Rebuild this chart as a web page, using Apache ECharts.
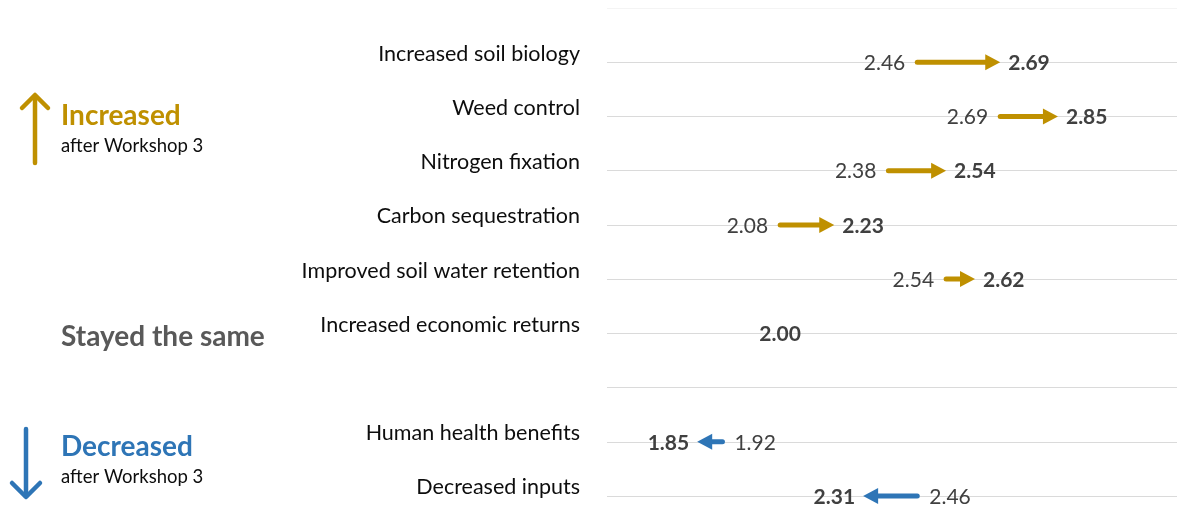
<!DOCTYPE html>
<html>
<head>
<meta charset="utf-8">
<script src="https://cdn.jsdelivr.net/npm/echarts/dist/echarts.min.js"></script>
<style>
  html, body { margin: 0; padding: 0; background: #fff; }
  #chart { width: 1177px; height: 529px; }
</style>
</head>
<body>
<div id="chart"></div>
<script>
// rows top to bottom; the two blank entries are spacer rows
const upItems = ['Increased soil biology', 'Weed control', 'Nitrogen fixation',
  'Carbon sequestration', 'Improved soil water retention', 'Increased economic returns'];
const downItems = ['Human health benefits', 'Decreased inputs'];
const categories = [''].concat(upItems, [' '], downItems);

// mean scores before / after Workshop 3
const before = [2.46, 2.69, 2.38, 2.08, 2.54, 2.00, 1.92, 2.46];
const after = [2.69, 2.85, 2.54, 2.23, 2.62, 2.00, 1.85, 2.31];

const GOLD = '#BF9000';
const BLUE = '#2E75B6';
const FONT = 'Lato';

// [row index on the axis, before, after]
const rows = upItems.concat(downItems).map(function (name, i) {
  return [categories.indexOf(name), before[i], after[i]];
});

function renderItem (params, api) {
  const y = api.value(0);
  const v0 = api.value(1);
  const v1 = api.value(2);
  const p0 = api.coord([v0, y]);
  const p1 = api.coord([v1, y]);
  const dir = v1 < v0 ? -1 : 1;
  const color = dir > 0 ? GOLD : BLUE;
  const children = [];
  if (v0 !== v1) {
    const head = 15;
    const half = 8;
    children.push({
      type: 'line',
      shape: { x1: p0[0], y1: p0[1], x2: p1[0] - dir * (head - 1), y2: p1[1] },
      style: { stroke: color, lineWidth: 5, lineCap: 'round' }
    });
    children.push({
      type: 'polygon',
      shape: { points: [[p1[0], p1[1]], [p1[0] - dir * head, p1[1] - half], [p1[0] - dir * head, p1[1] + half]] },
      style: { fill: color }
    });
    children.push({
      type: 'text',
      x: p0[0] - dir * 12,
      y: p0[1] + 1,
      style: {
        text: v0.toFixed(2), fill: '#404040', font: '21px ' + FONT,
        align: dir > 0 ? 'right' : 'left', verticalAlign: 'middle'
      }
    });
  }
  children.push({
    type: 'text',
    x: p1[0] + dir * 8,
    y: p1[1] + 1,
    style: {
      text: v1.toFixed(2), fill: '#404040', font: 'bold 21px ' + FONT,
      align: dir > 0 ? 'left' : 'right', verticalAlign: 'middle'
    }
  });
  return { type: 'group', children: children };
}

const chart = echarts.init(document.getElementById('chart'));
chart.setOption({
  animation: false,
  grid: { left: 607, right: 0, top: 8, bottom: 33 },
  xAxis: {
    type: 'value',
    min: 1.6,
    max: 3.18,
    show: false
  },
  yAxis: {
    type: 'category',
    data: categories,
    inverse: true,
    boundaryGap: false,
    axisLine: { show: false },
    axisTick: { show: false },
    axisLabel: {
      color: '#0D0D0D',
      fontFamily: FONT,
      fontSize: 21.5,
      margin: 27,
      verticalAlign: 'bottom',
      lineHeight: 17
    },
    splitLine: {
      show: true,
      lineStyle: {
        width: 1,
        color: categories.map(function (c, i) { return i === 0 ? '#F4F4F4' : '#DADADA'; })
      }
    }
  },
  series: [{
    type: 'custom',
    renderItem: renderItem,
    encode: { y: 0, x: [1, 2] },
    data: rows
  }],
  graphic: [
    {
      type: 'polyline',
      shape: { points: [[35, 163], [35, 96]] },
      style: { stroke: GOLD, lineWidth: 4.5, lineCap: 'round', fill: null }
    },
    {
      type: 'polyline',
      shape: { points: [[22, 108], [35, 95], [48, 108]] },
      style: { stroke: GOLD, lineWidth: 4.5, lineCap: 'round', lineJoin: 'round', fill: null }
    },
    {
      type: 'text', x: 61, y: 116,
      style: { text: 'Increased', fill: GOLD, font: 'bold 28px ' + FONT, verticalAlign: 'middle' }
    },
    {
      type: 'text', x: 61, y: 146,
      style: { text: 'after Workshop 3', fill: '#0D0D0D', font: '18.5px ' + FONT, verticalAlign: 'middle' }
    },
    {
      type: 'text', x: 61, y: 337,
      style: { text: 'Stayed the same', fill: '#595959', font: 'bold 28px ' + FONT, verticalAlign: 'middle' }
    },
    {
      type: 'polyline',
      shape: { points: [[26, 429], [26, 496]] },
      style: { stroke: BLUE, lineWidth: 4.5, lineCap: 'round', fill: null }
    },
    {
      type: 'polyline',
      shape: { points: [[12, 483], [26, 497], [40, 483]] },
      style: { stroke: BLUE, lineWidth: 4.5, lineCap: 'round', lineJoin: 'round', fill: null }
    },
    {
      type: 'text', x: 61, y: 447,
      style: { text: 'Decreased', fill: BLUE, font: 'bold 28px ' + FONT, verticalAlign: 'middle' }
    },
    {
      type: 'text', x: 61, y: 477,
      style: { text: 'after Workshop 3', fill: '#0D0D0D', font: '18.5px ' + FONT, verticalAlign: 'middle' }
    }
  ]
});
window.addEventListener('resize', function () { chart.resize(); });
</script>
</body>
</html>
